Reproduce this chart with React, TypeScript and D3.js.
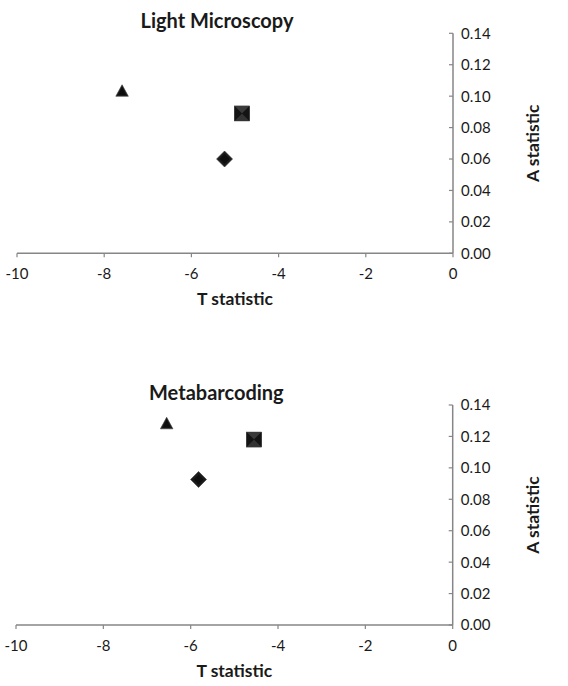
import React from "react";
import * as d3 from "d3";

const panelTitles = ["Light Microscopy", "Metabarcoding"];
const markerShapes = ["triangle", "square", "diamond"];
const lightT = [-7.59, -4.84, -5.24];
const lightA = [0.1036, 0.089, 0.06];
const metaT = [-6.55, -4.55, -5.82];
const metaA = [0.1285, 0.118, 0.0926];
const xTicks = [-10, -8, -6, -4, -2, 0];
const yTicks = [0, 0.02, 0.04, 0.06, 0.08, 0.1, 0.12, 0.14];
const xLabel = "T statistic";
const yLabel = "A statistic";

const FONT = "Lato, 'Open Sans', sans-serif";
const AXIS = "#868686";

function Marker({ shape, cx, cy }: { shape: string; cx: number; cy: number }) {
  if (shape === "triangle") {
    const w = 12.5, h = 11.5;
    return (
      <g transform={`translate(${cx},${cy})`}>
        <path d={`M0,${-h / 2} L${w / 2},${h / 2} L${-w / 2},${h / 2} Z`} fill="#1a1a1a" stroke="#3a3a3a" strokeWidth={0.6} />
        <path d={`M0,${-h / 2 + 2} L${w / 2 - 2.5},${h / 2 - 1.2} L${-w / 2 + 2.5},${h / 2 - 1.2} Z`} fill="#0d0d0d" />
      </g>
    );
  }
  if (shape === "square") {
    const s = 15;
    const hs = s / 2;
    return (
      <g transform={`translate(${cx},${cy})`}>
        <rect x={-hs} y={-hs} width={s} height={s} fill="#2a2a2a" stroke="#4a4a4a" strokeWidth={0.6} />
        <path d={`M${-hs},${-hs} L${hs},${-hs} L0,0 Z`} fill="#3a3a3a" />
        <path d={`M${-hs},${hs} L${hs},${hs} L0,0 Z`} fill="#333" />
        <path d={`M${-hs},${-hs} L${-hs},${hs} L0,0 Z`} fill="#141414" />
        <path d={`M${hs},${-hs} L${hs},${hs} L0,0 Z`} fill="#141414" />
      </g>
    );
  }
  const r = 8;
  return (
    <g transform={`translate(${cx},${cy})`}>
      <path d={`M0,${-r} L${r},0 L0,${r} L${-r},0 Z`} fill="#1c1c1c" stroke="#3a3a3a" strokeWidth={0.6} />
      <path d={`M0,${-r + 3} L${r - 3},0 L0,${r - 3} L${-r + 3},0 Z`} fill="#0f0f0f" />
    </g>
  );
}

function Panel({ title, tVals, aVals, left, right, top, bottom }: any) {
  const x = d3.scaleLinear().domain([-10, 0]).range([left, right]);
  const y = d3.scaleLinear().domain([0, 0.14]).range([bottom, top]);
  const cx = (left + right) / 2;
  return (
    <g>
      <text x={cx - 18} y={top - 5.5} textAnchor="middle" fontFamily={FONT} fontWeight="bold" fontSize={20} fill="#1a1a1a">
        {title}
      </text>
      <line x1={x(-10)} x2={x(0)} y1={y(0)} y2={y(0)} stroke={AXIS} strokeWidth={1.5} />
      {xTicks.map((t) => (
        <g key={"x" + t}>
          <line x1={x(t)} x2={x(t)} y1={y(0)} y2={y(0) + 4} stroke={AXIS} strokeWidth={1.2} />
          <text x={x(t)} y={y(0) + 26} textAnchor="middle" fontFamily={FONT} fontSize={15} fill="#1a1a1a">
            {t}
          </text>
        </g>
      ))}
      <text x={cx} y={y(0) + 52} textAnchor="middle" fontFamily={FONT} fontWeight="bold" fontSize={17.5} fill="#1a1a1a">
        {xLabel}
      </text>
      <line x1={x(0)} x2={x(0)} y1={y(0)} y2={y(0.14)} stroke={AXIS} strokeWidth={1.5} />
      {yTicks.map((t) => (
        <g key={"y" + t}>
          <line x1={x(0) - 4} x2={x(0)} y1={y(t)} y2={y(t)} stroke={AXIS} strokeWidth={1.2} />
          <text x={x(0) + 8} y={y(t)} dy="0.36em" textAnchor="start" fontFamily={FONT} fontSize={15} fill="#1a1a1a">
            {t.toFixed(2)}
          </text>
        </g>
      ))}
      <text
        transform={`translate(${x(0) + 86},${(y(0) + y(0.14)) / 2}) rotate(-90)`}
        textAnchor="middle"
        fontFamily={FONT}
        fontWeight="bold"
        fontSize={17.5}
        fill="#1a1a1a"
      >
        {yLabel}
      </text>
      {tVals.map((t: number, i: number) => (
        <Marker key={i} shape={markerShapes[i]} cx={x(t)} cy={y(aVals[i])} />
      ))}
    </g>
  );
}

export default function App() {
  return (
    <svg width={568} height={686} style={{ position: "absolute", left: 0, top: 0, background: "#fff" }}>
      <rect width={568} height={686} fill="#fff" />
      <Panel title={panelTitles[0]} tVals={lightT} aVals={lightA} left={17} right={453} top={33.3} bottom={253.3} />
      <Panel title={panelTitles[1]} tVals={metaT} aVals={metaA} left={16} right={452.7} top={405} bottom={625} />
    </svg>
  );
}
